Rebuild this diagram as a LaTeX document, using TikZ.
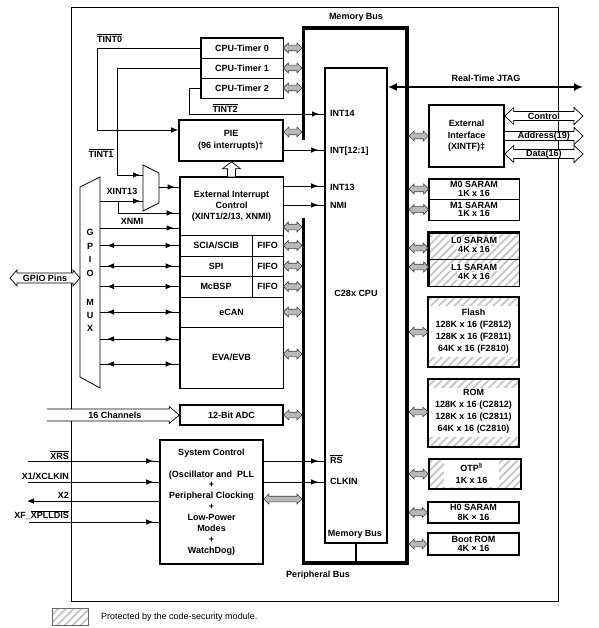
\documentclass[tikz,border=0pt]{standalone}
\usepackage{fontspec}
\setmainfont{Liberation Sans}
\usetikzlibrary{calc,arrows.meta,decorations.markings,patterns.meta}
\newcommand\ovl[1]{$\overline{\mbox{#1}}$}
\tikzset{
  ahl/.store in=\ahl, ahh/.store in=\ahh, abh/.store in=\abh,
  ahl=5pt, ahh=5pt, abh=2.8pt,
  txt/.style={font=\fontsize{9}{10}\selectfont\bfseries, inner sep=0pt},
  lead/.style={font=\fontsize{9}{#1}\selectfont\bfseries},
  cellbox/.style={txt, draw, line width=0.7pt, align=center},
  blkbox/.style={txt, draw, line width=1.6pt, align=center},
  thickbox/.style={draw, line width=1.6pt},
  wtxt/.style={txt, fill=white, inner xsep=1.5pt, inner ysep=0.6pt},
  conn/.style={line width=0.8pt},
  endtip/.style={-{Latex[length=7pt,width=5.5pt]}},
  sarrow/.style={conn, postaction={decorate}, decoration={markings, mark=at position -#1 with {\arrow{Latex[length=7pt,width=5.5pt]}}}},
  sarrow/.default=6pt,
  darrow/.style={conn, postaction={decorate}, decoration={markings,
      mark=at position 7pt with {\arrowreversed{Latex[length=7pt,width=5.5pt]}},
      mark=at position -7pt with {\arrow{Latex[length=7pt,width=5.5pt]}}}},
  gbus/.style={draw=black!75, fill=gray!55, line width=0.6pt, ahl=5pt, ahh=5pt, abh=2.8pt},
  hdbl/.style={draw, fill=white, line width=0.7pt, ahl=9pt, ahh=8.5pt, abh=4.5pt},
  hsgl/.style={draw, fill=white, line width=0.7pt, ahl=10pt, ahh=8.5pt, abh=6pt},
  hatch/.style={pattern={Lines[angle=45,distance=5.5pt,line width=1.8pt]}, pattern color=gray!45},
  bus/.style={line width=3.5pt},
}
% double-headed fat arrow: options, start, end (y taken from start)
\newcommand\DblArrow[3]{\draw[#1] let \p1=(#2), \p2=(#3) in
  (\x1,\y1) -- (\x1+\ahl,\y1+\ahh) -- (\x1+\ahl,\y1+\abh) -- (\x2-\ahl,\y1+\abh) -- (\x2-\ahl,\y1+\ahh) -- (\x2,\y1)
  -- (\x2-\ahl,\y1-\ahh) -- (\x2-\ahl,\y1-\abh) -- (\x1+\ahl,\y1-\abh) -- (\x1+\ahl,\y1-\ahh) -- cycle;}
% single-headed fat arrow, open tail
\newcommand\SglArrow[3]{\draw[#1] let \p1=(#2), \p2=(#3) in
  (\x1,\y1+\abh) -- (\x2-\ahl,\y1+\abh) -- (\x2-\ahl,\y1+\ahh) -- (\x2,\y1) -- (\x2-\ahl,\y1-\ahh) -- (\x2-\ahl,\y1-\abh) -- (\x1,\y1-\abh);}
% upward fat arrow
\newcommand\UpArrow[3]{\draw[#1] let \p1=(#2), \p2=(#3) in
  (\x1-4pt,\y1) -- (\x1-4pt,\y2-7pt) -- (\x1-9pt,\y2-7pt) -- (\x1,\y2) -- (\x1+9pt,\y2-7pt) -- (\x1+4pt,\y2-7pt) -- (\x1+4pt,\y1);}
\begin{document}
\begin{tikzpicture}[x=1pt,y=-1pt]
\useasboundingbox (0,0) rectangle (598,628);
\fill[white] (0,0) rectangle (598,628);

% outer frame
\draw[line width=0.8pt] (71,7) rectangle (558,601);

% memory / peripheral bus
\draw[bus, line join=miter] (303.5,140) -- (303.5,28) -- (407,28) -- (407,563) -- (303.5,563) -- (303.5,218);
\coordinate (mbL) at (302,0);
\coordinate (mbR) at (409,0);
\node[txt] at (356,17) {Memory Bus};
\node[txt] at (318,575) {Peripheral Bus};

% CPU
\node[blkbox, minimum width=62, minimum height=475] (cpu) at (356,305.5) {};
\node[txt] at (356,293) {C28x CPU};
\node[txt] at (355,534) {Memory Bus};
\coordinate (mbbot) at (355,563);
\draw[line width=2pt] (cpu.south) -- (cpu.south |- mbbot);
\node[txt, anchor=west] at (330,113) {INT14};
\node[txt, anchor=west] at (330,151) {INT[12:1]};
\node[txt, anchor=west] at (330,187) {INT13};
\node[txt, anchor=west] at (330,205) {NMI};
\node[txt, anchor=west] at (330,459) {\ovl{RS}};
\node[txt, anchor=west] at (330,481) {CLKIN};

% JTAG
\coordinate (jtagR) at (583,87);
\draw[line width=1.8pt, {Latex[length=9pt,width=8pt]}-{Latex[length=9pt,width=8pt]}] (cpu.east |- jtagR) -- (jtagR);
\node[txt] at (486,78) {Real-Time JTAG};

% CPU timers
\node[cellbox, minimum width=82, minimum height=20] (t0) at (242,48) {CPU-Timer 0};
\node[cellbox, minimum width=82, minimum height=20] (t1) at (242,68) {CPU-Timer 1};
\node[cellbox, minimum width=82, minimum height=20] (t2) at (242,88) {CPU-Timer 2};
\draw[thickbox] (t0.north west) rectangle (t2.south east);

% PIE
\node[blkbox, lead=12, minimum width=104, minimum height=41] (pie) at (231,140.5) {PIE\\(96 interrupts)†};

% External interrupt group
\node[cellbox, lead=11, minimum width=103, minimum height=58] (eic) at (231.5,206) {External Interrupt\\Control\\(XINT1/2/13, XNMI)};
\node[cellbox, minimum width=72, minimum height=21] (sci) at (216,245.5) {SCIA/SCIB};
\node[cellbox, minimum width=31, minimum height=21] (f1) at (267.5,245.5) {FIFO};
\node[cellbox, minimum width=72, minimum height=20] (spi) at (216,266) {SPI};
\node[cellbox, minimum width=31, minimum height=20] (f2) at (267.5,266) {FIFO};
\node[cellbox, minimum width=72, minimum height=21] (mcbsp) at (216,286.5) {McBSP};
\node[cellbox, minimum width=31, minimum height=21] (f3) at (267.5,286.5) {FIFO};
\node[cellbox, minimum width=103, minimum height=30] (ecan) at (231.5,312) {eCAN};
\node[cellbox, minimum width=103, minimum height=61] (eva) at (231.5,357.5) {EVA/EVB};
\draw[thickbox] (eic.north west) rectangle (eva.south east);

% ADC
\node[blkbox, minimum width=103, minimum height=20] (adc) at (231.5,415) {12-Bit ADC};

% System control
\node[blkbox, lead=10.9, minimum width=103, minimum height=124] (sys) at (211.5,502)
  {System Control\\[10.9pt](Oscillator and~ PLL\\+\\Peripheral Clocking\\+\\Low-Power\\Modes\\+\\WatchDog)};

% External interface
\node[blkbox, lead=11.5, minimum width=75, minimum height=62] (xif) at (466.5,136) {External\\Interface\\(XINTF)‡};
\coordinate (xctl) at ($(xif.east)+(0,-20)$);
\coordinate (xadr) at (xif.east);
\coordinate (xdat) at ($(xif.east)+(0,18)$);
\DblArrow{hdbl}{xctl}{xctl -| jtagR}
\SglArrow{hsgl, ahl=9pt, abh=4.5pt}{xadr}{xadr -| jtagR}
\DblArrow{hdbl}{xdat}{xdat -| jtagR}
\node[txt] at ($(xctl)!.5!(xctl -| jtagR)$) {Control};
\node[txt] at ($(xadr)!.5!(xadr -| jtagR)$) {Address(19)};
\node[txt] at ($(xdat)!.5!(xdat -| jtagR)$) {Data(16)};

% Memories
\node[cellbox, lead=8.5, minimum width=90, minimum height=20] (m0) at (474,189) {M0 SARAM\\1K x 16};
\node[cellbox, lead=8.5, minimum width=90, minimum height=21] (m1) at (474,209.5) {M1 SARAM\\1K x 16};
\draw[thickbox] (m0.north west) rectangle (m1.south east);

\node[draw, line width=0.7pt, hatch, minimum width=90, minimum height=26, inner sep=0pt] (l0) at (474,246) {};
\node[draw, line width=0.7pt, hatch, minimum width=90, minimum height=27, inner sep=0pt] (l1) at (474,272.5) {};
\draw[thickbox] (l0.north west) rectangle (l1.south east);
\node[wtxt] at ($(l0)+(0,-5.5)$) {L0 SARAM};
\node[wtxt] at ($(l0)+(0,3)$) {4K x 16};
\node[wtxt] at ($(l1)+(0,-5.5)$) {L1 SARAM};
\node[wtxt] at ($(l1)+(0,3.5)$) {4K x 16};

\node[minimum width=91, minimum height=70, inner sep=0pt] (flash) at (473.5,332) {};
\path[hatch] (flash.north west) rectangle ($(flash.north east)+(0,9)$);
\path[hatch] ($(flash.south west)+(0,-10)$) rectangle (flash.south east);
\draw[thickbox] (flash.north west) rectangle (flash.south east);
\node[txt, lead=12, align=center] at (473.5,331) {Flash\\128K x 16 (F2812)\\128K x 16 (F2811)\\64K x 16 (F2810)};

\node[minimum width=91, minimum height=68, inner sep=0pt] (rom) at (473.5,413) {};
\path[hatch] (rom.north west) rectangle ($(rom.north east)+(0,9)$);
\path[hatch] ($(rom.south west)+(0,-10)$) rectangle (rom.south east);
\draw[thickbox] (rom.north west) rectangle (rom.south east);
\node[txt, lead=12, align=center] at (473.5,411) {ROM\\128K x 16 (C2812)\\128K x 16 (C2811)\\64K x 16 (C2810)};

\node[draw, line width=1.6pt, hatch, minimum width=92, minimum height=30, inner sep=0pt] (otp) at (475,474) {};
\node[txt, lead=12, align=center, fill=white, minimum width=55, minimum height=27] at (471.5,473.5) {OTP\textsuperscript{§}\\1K x 16};

\node[blkbox, lead=10, minimum width=91, minimum height=21] (h0) at (473.5,512.5) {H0 SARAM\\8K × 16};
\node[blkbox, lead=9, minimum width=91, minimum height=22] (boot) at (473.5,544) {Boot ROM\\4K × 16};

% gray bus arrows, right
\coordinate (l0g) at ($(l0.west)+(0,2)$);
\coordinate (l1g) at ($(l1.west)+(0,-5.5)$);
\coordinate (romg) at ($(rom.west)+(0,-1)$);
\foreach \nm in {xif,m0,m1,flash,otp,h0,boot} {\DblArrow{gbus}{\nm.west -| mbR}{\nm.west}}
\foreach \nm in {l0g,l1g,romg} {\DblArrow{gbus}{\nm -| mbR}{\nm}}

% gray bus arrows, left
\coordinate (pieg) at ($(pie.east)+(0,-8.5)$);
\coordinate (eicg) at ($(eic.east)+(0,21)$);
\coordinate (evag) at ($(eva.east)+(0,-3.5)$);
\coordinate (sysg) at ($(sys.east)+(0,-3)$);
\foreach \nm in {t0,t1,t2,f1,f2,f3,ecan,adc} {\DblArrow{gbus}{\nm.east}{\nm.east -| mbL}}
\foreach \nm in {pieg,eicg,evag,sysg} {\DblArrow{gbus}{\nm}{\nm -| mbL}}

% interrupt connections
\coordinate (int14) at (325,114);
\coordinate (tint0in) at ($(pie.west)+(0,-10.5)$);
\draw[conn, endtip] (t0.west) -- ++(-103,0) |- (tint0in);
\draw[sarrow] (t2.west) -- ++(-11,0) |- (int14);
\node[txt, anchor=west] at (97,38) {\ovl{TINT0}};
\node[txt] at (101,153) {\ovl{TINT1}};
\node[txt] at (225,108) {\ovl{TINT2}};

\coordinate (pieo) at ($(pie.east)+(0,9.5)$);
\draw[sarrow] (pieo) -- (pieo -| cpu.west);
\coordinate (eio1) at ($(eic.east)+(0,-20)$);
\coordinate (eio2) at ($(eic.east)+(0,-1)$);
\draw[sarrow] (eio1) -- (eio1 -| cpu.west);
\draw[sarrow] (eio2) -- (eio2 -| cpu.west);
\UpArrow{draw, fill=white, line width=0.7pt}{eic.north}{pie.south}

% interrupt mux
\draw[line width=0.8pt] (143,165) -- (159,173) -- (159,203) -- (143,211) -- cycle;
\coordinate (muxin1) at (143,175);
\coordinate (muxin2) at (143,201);
\coordinate (muxout) at (159,187);
\draw[sarrow=3pt] (t1.west) -- ++(-83,0) |- (muxin1);
\draw[sarrow=5pt] (muxout) -- (muxout -| eic.west);

% GPIO mux
\draw[line width=0.8pt] (80,187) -- (100,177) -- (100,388) -- (80,377) -- cycle;
\foreach \ch/\yy in {G/232,P/246,I/259,O/273,M/302,U/315,X/328} \node[txt] at (90,\yy) {\ch};
\coordinate (gpioR) at (100,0);
\coordinate (gpioL) at (80,0);
\coordinate (gx13) at (100,201);
\coordinate (gnmi) at (100,228);
\coordinate (xint13in) at ($(eic.west)+(0,7)$);
\draw[sarrow=3pt] (gx13) -- (muxin2);
\draw[sarrow] ($(gx13)+(18,0)$) |- (xint13in);
\draw[sarrow] (gnmi) -- (gnmi -| eic.west);
\node[txt] at (122,191) {XINT13};
\node[txt] at (132,221) {XNMI};
\foreach \nm in {sci,spi,mcbsp,ecan} {\draw[darrow] (\nm.west -| gpioR) -- (\nm.west);}
\coordinate (ev1) at ($(eva.west)+(0,-18.5)$);
\coordinate (ev2) at ($(eva.west)+(0,6.5)$);
\draw[darrow] (ev1 -| gpioR) -- (ev1);
\draw[darrow] (ev2 -| gpioR) -- (ev2);

% GPIO pins
\coordinate (gpl) at (10,278);
\DblArrow{hdbl, ahl=7pt, ahh=8pt, abh=5pt}{gpl}{gpl -| gpioL}
\node[txt] at (45,278) {GPIO Pins};

% ADC channels
\coordinate (ch16) at (47,415);
\SglArrow{hsgl}{ch16}{ch16 -| adc.west}
\node[txt] at (115,415.5) {16 Channels};

% system control connections
\coordinate (rs) at ($(sys.east)+(0,-41)$);
\coordinate (ck) at ($(sys.east)+(0,-20)$);
\draw[sarrow] (rs) -- (rs -| cpu.west);
\draw[sarrow] (ck) -- (ck -| cpu.west);
\coordinate (pxrs) at (28,461);
\coordinate (px1) at (28,482);
\coordinate (px2) at (27,501);
\coordinate (pxf) at (29,522);
\draw[sarrow] (pxrs) -- (pxrs -| sys.west);
\draw[sarrow] (px1) -- (px1 -| sys.west);
\draw[conn, endtip] (px2 -| sys.west) -- (px2);
\draw[sarrow] (pxf) -- (pxf -| sys.west);
\node[txt, anchor=east] at (69,455) {\ovl{XRS}};
\node[txt, anchor=east] at (69,476) {X1/XCLKIN};
\node[txt, anchor=east] at (69,495) {X2};
\node[txt, anchor=east] at (69,515) {XF\_\ovl{XPLLDIS}};

% legend
\draw[hatch, draw=black!60, line width=0.8pt] (52,608) rectangle (88,625);
\node[font=\fontsize{9}{10}\selectfont, inner sep=0pt, anchor=west] at (101,617) {Protected by the code-security module.};
\end{tikzpicture}
\end{document}
